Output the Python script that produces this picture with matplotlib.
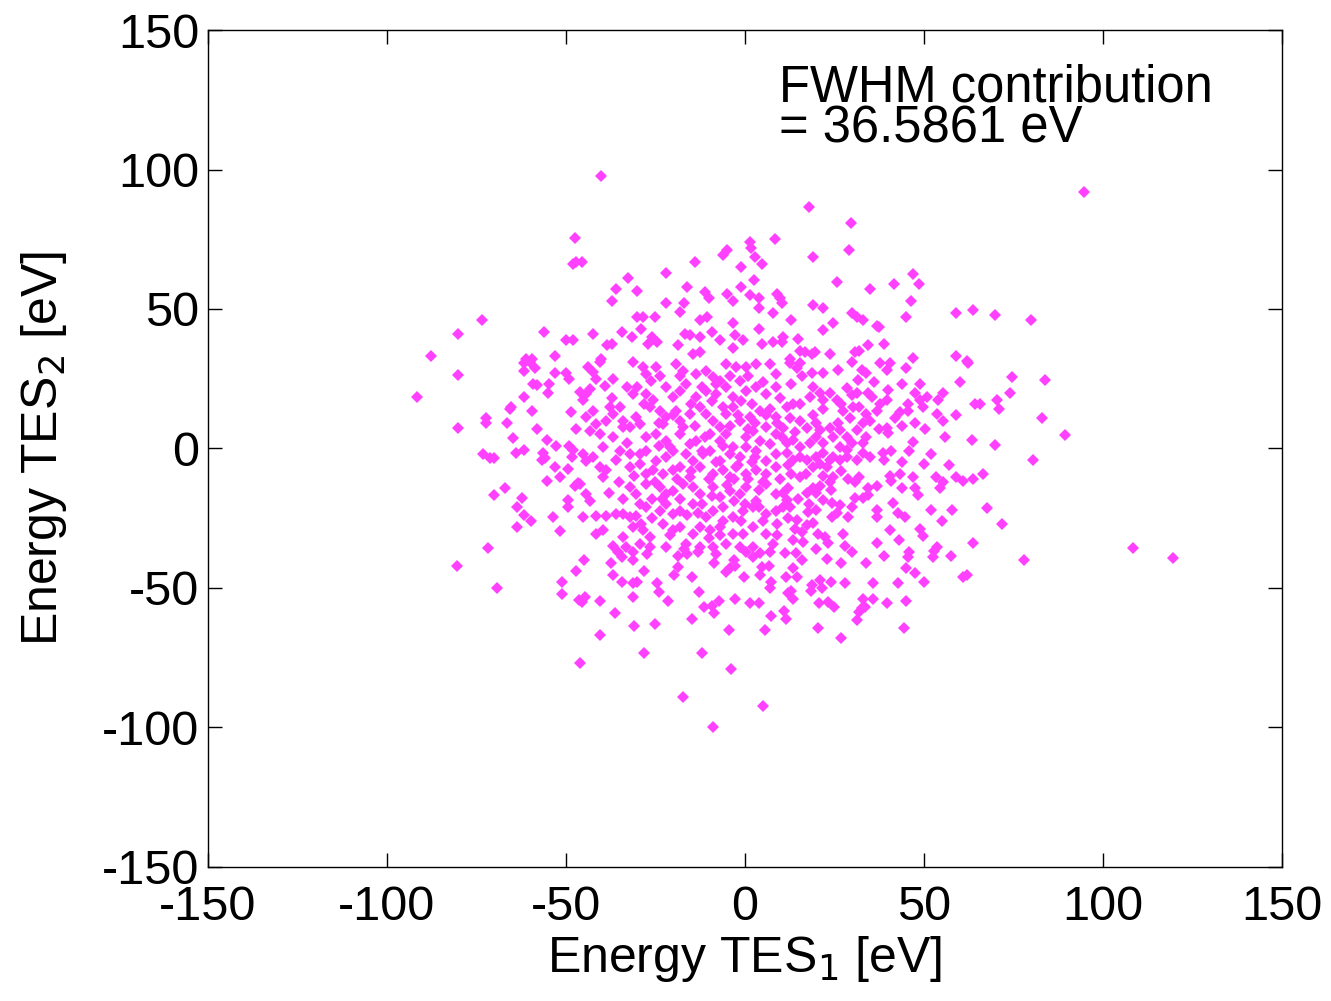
import numpy as np
import matplotlib
matplotlib.use('Agg')
import matplotlib.pyplot as plt

plt.rcParams['font.family'] = ['Liberation Sans', 'DejaVu Sans']
plt.rcParams['axes.unicode_minus'] = False

# (E_TES1, E_TES2) pairs in eV
upper_left = [(-47.5, 75.6), (-48, 66), (-47, 67), (-73.5, 46), (-80, 41), (-87.7, 33),
              (-56, 41.6), (-53, 33), (-50, 39), (-48, 39), (-61, 32), (-59.5, 32)]

upper_mid = [(-40, 97.5), (8.4, 75), (1.4, 74), (1.7, 72), (-5, 71), (-6, 69.5), (-45.5, 67),
             (2.8, 68.5), (4.7, 66), (-14, 67), (-1, 65), (-22, 63), (-32.7, 61), (2.5, 60.5),
             (-36, 57), (-37, 53), (-30, 56.6), (-16, 57.7), (-1, 58), (-11, 56), (-10, 54),
             (-5, 55.5), (-3.3, 53), (1.4, 55), (4, 54), (4, 50.5), (9, 55.5), (-22, 52),
             (-17, 52), (-18, 49), (8, 48.7), (-30, 47), (-28.5, 47), (-29, 43), (-25, 47),
             (-12.5, 46), (-10.6, 47), (-3.3, 45), (4, 43), (-42.5, 41), (-34.4, 41.6),
             (-31.6, 40), (-26, 40), (-24.6, 38), (-27, 37.6), (-16.8, 41), (-15.4, 40.5),
             (-12.6, 40), (-9, 41.6), (-2.8, 40.5), (-0.6, 38.7), (-7, 38.7), (4.7, 37.6),
             (7.8, 38), (-38.5, 37), (-37, 37.6), (-18.7, 37), (-14.5, 34), (-12.6, 34.4),
             (-3.3, 36), (-40, 32)]

upper_right = [(18, 86.7), (29.6, 81), (29, 71), (19, 68.5), (47, 62.7), (48.6, 58.8),
               (25.7, 59.5), (35, 57), (41.6, 58.8), (46.4, 52.7), (45, 47), (9.8, 54),
               (10.3, 52), (19, 51.6), (22, 50.5), (30, 48.4), (31.3, 47), (33, 46), (13, 46),
               (24.6, 44.8), (21.8, 42.3), (36.9, 44), (37.4, 43.4), (59, 48.4), (63.7, 49.5),
               (10.6, 40), (10.3, 38), (15, 39.4), (15.4, 35), (16.8, 34.4), (18.7, 34),
               (19.6, 34.4), (23.7, 33.7), (30.7, 34.4), (32, 35), (34.4, 37), (39, 37.6),
               (47, 32.6), (59, 33), (62, 31.5), (12.6, 32), (94.7, 92), (70, 47.7), (80, 46)]

mid_left = [(-80, 26.5), (-91.6, 18.6), (-80, 7.5), (-61.7, 30.5), (-60, 31), (-58.7, 29),
            (-61.7, 27.6), (-53, 27), (-50, 27), (-49, 25), (-59, 23), (-58, 22.6), (-54.7, 23),
            (-55, 19.7), (-61.7, 18.6), (-65.4, 14.7), (-65.6, 14), (-59.5, 13.3), (-48.6, 13),
            (-72.3, 10.8), (-72.3, 9), (-66.5, 9), (-58, 6.8), (-47, 6.8), (-64.8, 3.6),
            (-55.3, 2.9), (-52.8, 0.7), (-49, 1), (-48, -0.7), (-48.3, -3), (-64, -1.8),
            (-61.7, -0.7), (-73, -2), (-71, -3.6), (-70, -3.6), (-56.4, -1.8), (-55.9, -3.6),
            (-56.7, -4.3), (-53, -6.5), (-49.4, -7.5), (-55.3, -11.5), (-51.7, -10.4),
            (-47.5, -13.6), (-46.6, -12.5), (-67, -14.3), (-70, -16.8), (-62.3, -17.6),
            (-49.4, -18.6), (-49.4, -21), (-63.7, -21), (-61.7, -24), (-59.8, -26),
            (-53.6, -24.4), (-63.7, -28), (-51.7, -29.7), (-71.8, -35.8)]

core_left = [(-43.8, 29.1), (-42.4, 27.3), (-40.5, 30.9), (-31.2, 30.9), (-28.4, 29.1),
             (-27.5, 26.7), (-26.1, 24.3), (-23.7, 26.1), (-24.7, 29.1), (-19.1, 30.3),
             (-17.2, 27.9), (-13.5, 26.7), (-10.7, 27.9), (-8.9, 25.5), (-7.0, 24.3),
             (-5.1, 30.3), (-2.3, 29.1), (0.5, 29.1), (3.2, 30.3), (7.0, 30.3), (8.8, 26.7),
             (-36.8, 24.9), (-39.1, 22.5), (-41.4, 24.9), (-46.1, 20.1), (-44.2, 19.6),
             (-43.3, 21.3), (-31.2, 19.6), (-27.5, 19.6), (-25.6, 17.2), (-21.9, 21.9),
             (-20.0, 18.4), (-18.2, 20.7), (-16.3, 23.1), (-13.5, 18.4), (-10.7, 20.7),
             (-7.9, 19.6), (-5.1, 21.9), (-3.3, 18.4), (-1.4, 24.3), (0.5, 20.7), (3.2, 21.9),
             (6.0, 19.6), (8.8, 21.9), (-45.2, 17.2), (-44.2, 11.2), (-42.4, 13.6),
             (-41.4, 8.8), (-38.7, 10.0), (-36.8, 12.4), (-34.9, 14.8), (-37.7, 14.8),
             (-34.0, 10.0), (-32.1, 7.6), (-30.3, 11.2), (-29.3, 8.8), (-26.5, 14.8),
             (-23.7, 13.6), (-21.9, 11.2), (-22.8, 8.8), (-19.1, 13.6), (-18.2, 10.0),
             (-15.4, 12.4), (-17.2, 7.6), (-12.6, 14.8), (-10.7, 12.4), (-8.9, 10.0),
             (-7.0, 7.6), (-5.1, 12.4), (-3.3, 14.8), (-1.4, 10.0), (1.4, 11.2), (4.2, 13.6),
             (6.0, 7.6), (8.8, 11.2), (-43.3, 6.4), (-40.5, 5.2), (-36.8, 4.0), (-34.0, 7.6),
             (-27.5, 4.0), (-24.7, 5.2), (-21.9, 2.8), (-21.0, 0.4), (-18.2, 5.2), (-15.4, 1.6),
             (-13.5, 2.8), (-9.8, 5.2), (-7.0, 2.8), (-5.1, 5.2), (-3.3, 0.4), (0.5, 4.0),
             (2.3, 6.4), (4.2, 2.8), (7.0, 1.6), (8.8, 5.2), (-39.6, 0.4), (-44.2, -4.4),
             (-42.4, -3.2), (-45.2, -2.0), (-34.9, -0.8), (-32.1, -2.0), (-29.3, -2.0),
             (-27.5, -0.8), (-24.7, -4.4), (-21.9, -3.2), (-20.0, -0.8), (-16.3, -2.0),
             (-14.4, -4.4), (-11.7, -2.0), (-9.8, -0.8), (-7.0, -4.4), (-4.2, -2.0),
             (-1.4, -3.2), (0.5, 0.4), (3.2, -0.8), (6.0, -4.4), (8.8, -2.0), (-40.5, -6.7),
             (-38.7, -7.9), (-39.6, -10.3), (-32.1, -6.7), (-29.3, -5.5), (-27.5, -9.1),
             (-25.6, -7.9), (-22.8, -9.1), (-20.0, -7.9), (-18.2, -6.7), (-15.4, -10.3),
             (-12.6, -6.7), (-8.9, -9.1), (-6.1, -7.9), (-4.2, -10.3), (-2.3, -6.7), (0.5, -9.1),
             (3.2, -7.9), (6.0, -9.1), (8.8, -6.7), (-46.1, -12.7), (-43.3, -18.7),
             (-44.2, -16.3), (-32.1, -13.9), (-30.3, -16.3), (-29.3, -19.9), (-27.5, -12.7),
             (-23.7, -13.9), (-21.9, -16.3), (-20.0, -15.1), (-17.2, -12.7), (-14.4, -13.9),
             (-12.6, -16.3), (-8.9, -13.9), (-7.0, -17.5), (-4.2, -15.1), (-1.4, -16.3),
             (0.5, -13.9), (3.2, -18.7), (6.0, -12.7), (8.8, -16.3), (-45.2, -24.7),
             (-41.4, -24.1), (-38.7, -24.1), (-35.9, -23.5), (-34.0, -23.5), (-32.1, -24.7),
             (-30.3, -24.1), (-27.5, -21.1), (-23.7, -22.3), (-21.9, -19.9), (-20.0, -23.5),
             (-18.2, -22.3), (-14.4, -19.9), (-10.7, -24.7), (-8.9, -22.3), (-6.1, -25.9),
             (-3.3, -24.7), (-0.5, -22.3), (2.3, -21.1), (6.0, -23.5), (8.8, -22.3),
             (-41.4, -30.6), (-39.6, -29.4), (-34.0, -31.8), (-31.2, -28.3), (-28.4, -29.4),
             (-26.5, -31.8), (-22.8, -27.1), (-20.0, -29.4), (-18.2, -28.3), (-14.4, -30.6),
             (-12.6, -28.3), (-9.8, -29.4), (-7.0, -28.3), (-3.3, -30.6), (-0.5, -30.6),
             (2.3, -28.3), (6.0, -30.6), (-36.8, -34.8), (-33.1, -35.4), (-29.3, -34.2),
             (-26.5, -35.4), (-21.9, -35.4), (-16.3, -34.2), (-12.6, -35.4), (-8.9, -35.4),
             (-5.1, -34.2), (-1.4, -35.4), (2.3, -35.4), (7.9, -34.2)]

core_right = [(62.3, 30.5), (60, 23.7), (45, 29), (37.7, 30.5), (39.7, 28), (40.5, 30.5),
              (30, 31), (32.7, 28), (18.7, 27), (12.6, 30.5), (14.5, 29), (15.4, 30.5),
              (64.2, 15.8), (63.4, 2.9), (55.3, 19.7), (54, 17.2), (53.6, 12.5), (55.3, 10),
              (47.5, 20), (49, 17.2), (50.8, 18.3), (49.7, 14.7), (45.5, 16), (45.5, 13.6),
              (43.3, 13), (47.5, 9.3), (50.3, 6.8), (47, 2.2), (43.8, 8.2), (50, -5.4),
              (53.4, -10.4), (55.3, -12.2), (54.5, -14), (59, -10.4), (61, -11.5), (63.7, -11.1),
              (47, -10.4), (47.5, -14.3), (48.3, -16.8), (43.3, -9), (43.8, -14.3), (40.5, -9.7),
              (41, -11.5), (41.3, -19.7), (42.7, -23.3), (44.7, -24.7), (40.5, -29.4),
              (48.9, -28.7), (49.7, -31.5), (53.6, -35.5), (63.7, -34), (38.5, -1.8), (39, -4.3),
              (39.7, 7.5), (40, 5.7), (37.4, 6.8), (37, 13.6), (37.7, 16), (39.7, 17.2),
              (34.4, 20), (35.5, 18.3), (31.6, 24.4), (28.5, 21.5), (31.3, 20), (30, 19),
              (34.4, -14), (36.9, -13.3), (32, -10.4), (30.7, -12.2), (28.8, -10.8),
              (33, -17.6), (34.4, -16.8), (37, -22.2), (37, -24.7), (30.7, -17.6), (30, -21),
              (28.8, -24.7), (26.5, -20.4), (25.7, -23.3), (24.3, -24.7), (27.4, -30.5),
              (24.3, -19.7), (20.4, -30.5), (22.3, -31.9), (23.2, -34), (28, -34.8),
              (17.3, -27.6), (19, -26.9), (17.6, -22.9), (14.5, -25.8), (14, -28.7),
              (11.7, -18.6), (10.6, -21), (12.6, -21), (13.4, -33), (16.2, -33.7),
              (17.3, -15.8), (19, -14.3), (21, -13.3), (23.7, -12.2), (24.6, -10.4), (13, -9),
              (15.4, -10.4), (19, -6.8), (21, -5.4), (23, -6.8), (24.6, -3.2), (26.5, -4.3),
              (28.5, -3.2), (31.3, -4.3), (33, -1.8), (35, -3.2), (33, 1.8), (34, 4), (30, 1.8),
              (28.5, -0.7), (26.5, 0.4), (21.8, -1.8), (23.7, -4.3), (20, -3.2), (15.4, -3.2),
              (17.3, -4.3), (13.4, -4.3), (11.7, -1.8), (11.7, 1.8), (13.4, 2.9), (15.4, 0.4),
              (18.2, 1.8), (20, 4), (21.8, 1.8), (24.6, 4), (26.5, 6.5), (23.7, 7.5),
              (28.5, 4), (31.3, 6.5), (33, 9), (35, 10), (34, 12.5), (29.3, 11), (27.4, 13.6),
              (30.2, 14.7), (25.7, 17.2), (23.7, 19.7), (21.8, 17.2), (19, 21.9), (21, 19.7),
              (18.2, 18.3), (15.4, 16), (13.4, 16), (11.7, 14.7), (12.6, 11), (15.4, 10),
              (17.3, 7.5), (20, 9), (21, 6.5), (10.6, 7.5), (10.3, 4), (12, -14), (10.6, -16),
              (21.8, -18.6), (20, -16)]

core_extra = [(-12, 22), (-9, 17), (-6, 15), (-2, 12), (2, 16), (5, 24), (-14, 8), (-11, 4),
              (-4, 8), (1, 7), (3, -3), (-2, -6), (-8, -5), (-10, -11), (-5, -13), (1, -11),
              (4, -15), (-3, -19), (0, -20), (5, -26), (-6, -21), (-12, -20), (-16, -24),
              (-10, -32), (-18, -18), (-23, -18), (-26, -25), (9, -27), (10, -11), (12, -6),
              (9, 9), (7, 14), (10, 18), (13, 23), (16, 26), (19, 12), (22, 14), (26, 9),
              (27, -8), (24, -15), (18, -20), (20, -22), (15, -18), (-20, 12), (-24, 9),
              (-28, 16), (-30, 22), (-33, 2), (-36, -4), (-38, -16), (-34, -18), (-26, -18),
              (-29, -27), (-21, -31), (-17, -36), (-8, -38), (-3, -40), (16, -40), (20, -36),
              (30, -37), (34, -41), (37, -34), (43, -33), (44, -5), (46, -1), (52, -2),
              (57, -6), (56, 4), (59, 12), (58, -22), (52, -22), (55, -26), (45, -43),
              (50, -48), (34, 27), (26, 28), (22, 27), (44, 23), (49, 23), (40, 21),
              (-8, 23), (-4, 26), (-15, 16), (-1, 17), (3, 9), (6, 12), (-12, -1), (-6, 1),
              (2, -5), (5, -12), (-3, -11), (-9, -17), (-15, -8), (-19, -11), (-25, -12),
              (-13, -23), (-7, -31), (-1, -26), (4, -21), (9, -31), (12, -25), (16, -30),
              (14, 6), (17, -9), (22, -10), (27, 16), (32, 15), (36, 24), (41, -1), (42, 11),
              (-33, 22), (-37, 18), (-31, -10), (-35, -12), (-24, 1), (-18, 26), (1, 26)]

far_right = [(74.6, 25.5), (84, 24.7), (74, 20), (70.4, 17.2), (71, 14), (83, 11), (89.4, 5),
             (69.8, 1.4), (80.4, -4), (66.5, -9.3), (67.6, -21.5), (72, -27), (108.4, -35.8),
             (119.5, -39.4), (78, -40), (65.6, 16)]

lower = [(-80.4, -42), (-69.3, -50), (-51, -48), (-51, -52.3), (-47.2, -44), (-46.4, -54.5),
         (-46, -77), (-45, -40), (-44.7, -53.4), (-45.5, -55), (-40.5, -54.8), (-40.5, -67),
         (-37.4, -41), (-36.9, -45.5), (-34.4, -48), (-36.3, -59), (-35.5, -37), (-34.4, -39),
         (-31.3, -37), (-31.3, -40), (-27.4, -38), (-28, -44), (-31.3, -48.4), (-30.2, -48),
         (-31.3, -53.4), (-31, -63.8), (-25, -63), (-28, -73.5), (-24.6, -48.4), (-24, -51.6),
         (-21.5, -54.8), (-18.7, -38.4), (-18.7, -42.6), (-19.8, -45.5), (-16, -38),
         (-14.8, -46), (-12.8, -51.6), (-14.8, -61.3), (-12, -73.5), (-17.3, -89),
         (-8.9, -100), (-13, -37), (-11.5, -57), (-9, -56.6), (-8.7, -59), (-7.3, -54.8),
         (-8.7, -41), (-5.3, -44.4), (-4.2, -43), (-2.8, -42), (-0.3, -46), (-4.5, -65),
         (-3.9, -79), (-2.8, -53.8), (1.4, -55.5), (3.9, -55.5), (5.6, -65), (5, -92.5),
         (7.3, -60), (0.3, -37), (2.2, -39), (4.2, -37.6), (7, -37), (4.7, -42.6), (6.7, -42),
         (4.2, -45.5), (7.3, -48), (7, -50), (11.2, -37.6), (14.2, -37.6), (23, -39.6),
         (26.8, -41), (39, -38.7), (46, -37), (45.5, -39), (53, -36.6), (52.5, -39),
         (57.5, -38.7), (13.4, -43), (11.5, -46), (14.5, -46), (47.5, -44.8), (61, -46),
         (62, -45.5), (18.7, -49), (18.4, -51), (21, -47.3), (21.5, -50), (24, -48),
         (28, -48.4), (35.8, -48.4), (42.7, -48.4), (13, -51), (13.4, -53.8), (12, -52),
         (20.7, -55.5), (23.2, -55), (25, -57), (33, -53.8), (33.5, -57), (32, -58.8),
         (31.3, -61.6), (32.7, -57.3), (35.8, -53.8), (39.7, -55.5), (45, -54.8), (11, -58.4),
         (11.5, -61), (20.4, -64.5), (26.8, -68), (44.4, -64.5)]

groups = [upper_left, upper_mid, upper_right, mid_left, core_left, core_right, core_extra,
          far_right, lower]
pts = np.array([p for g in groups for p in g])
tes1 = pts[:, 0]
tes2 = pts[:, 1]

ticks = [-150, -100, -50, 0, 50, 100, 150]
fwhm_text = 'FWHM contribution\n= 36.5861 eV'

fig = plt.figure(figsize=(13.31, 10.01), dpi=100)
ax = fig.add_axes([0.156, 0.134, 0.807, 0.836])
ax.plot(tes1, tes2, linestyle='none', marker='D', markersize=6.5,
        color='#ff40ff', markeredgewidth=0)
ax.set_xlim(-150, 150)
ax.set_ylim(-150, 150)
ax.set_xticks(ticks)
ax.set_yticks(ticks)
ax.tick_params(direction='in', length=10, width=1, top=True, right=True, labelsize=35)
ax.tick_params(axis='x', pad=13)
ax.tick_params(axis='y', pad=6)
for s in ax.spines.values():
    s.set_linewidth(1)
ax.set_xlabel('Energy TES$_1$ [eV]', fontsize=36, labelpad=3)
ax.set_ylabel('Energy TES$_2$ [eV]', fontsize=36, labelpad=24)
ax.text(9.5, 138, fwhm_text, fontsize=36.5, va='top', ha='left', linespacing=0.8)

fig.savefig('out.png', dpi=100)
